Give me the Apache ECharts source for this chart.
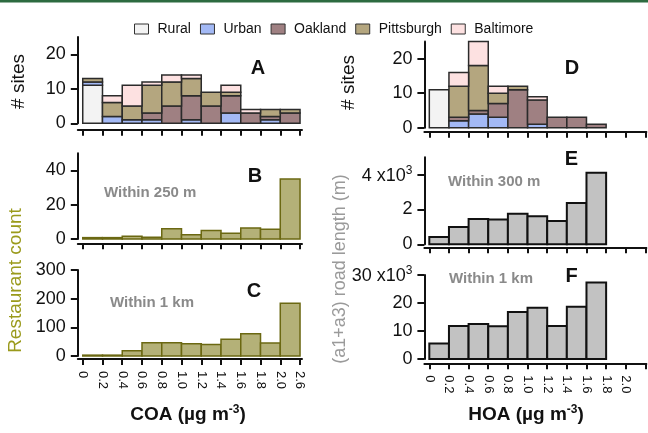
<!DOCTYPE html>
<html><head><meta charset="utf-8">
<script src="https://cdn.jsdelivr.net/npm/echarts@6/dist/echarts.min.js"></script>
<style>html,body{margin:0;padding:0;background:#fff}#c{width:648px;height:433px}</style>
</head><body><div id="c"></div>
<script>
const FONT = '"Liberation Sans", Arial, Helvetica, sans-serif';

// ---------- data ----------
const coaTickLabels = ['0','0.2','0.4','0.6','0.8','1.0','1.2','1.4','1.6','1.8','2.0','2.6'];
const hoaTickLabels = ['0','0.2','0.4','0.6','0.8','1.0','1.2','1.4','1.6','1.8','2.0',''];
const siteTypes = ['Rural','Urban','Oakland','Pittsburgh','Baltimore'];
const siteColors = ['#f3f3f3','#a3b9f5','#9f8082','#b4a67f','#fde1e1'];

// Panel A: # sites per COA bin (stack bottom -> top)
const coaRural      = [11,0,0,0,0,0,0,0,0,0,0];
const coaUrban      = [1,2,1,1,0,1,0,3,0,1,0];
const coaOakland    = [0,0,0,2,5,7,5,5,3,1,3];
const coaPittsburgh = [1,4,4,8,7,5,4,1,0,2,1];
const coaBaltimore  = [0,2,6,1,2,1,0,2,1,0,0];

// Panel D: # sites per HOA bin
const hoaRural      = [11,0,0,0,0,0,0,0,0];
const hoaUrban      = [0,2,4,3,0,1,0,0,0];
const hoaOakland    = [0,1,1,4,11,7,3,3,1];
const hoaPittsburgh = [0,9,13,3,1,0,0,0,0];
const hoaBaltimore  = [0,4,7,2,0,1,0,0,0];

// Panels B, C: restaurant count per COA bin
const restaurants250m = [0.8,0.8,1.6,1,6,2.5,5,3.3,6.4,5.7,35];
const restaurants1km  = [3,3,18,46,46,43,40,58,78,45,184];

// Panels E, F: (a1+a3) road length (m) per HOA bin
const road300m = [420,1000,1450,1420,1760,1610,1340,2370,4110];
const road1km  = [5500,11800,12500,11700,16800,18300,11800,18700,27300];

// ---------- helpers ----------
const tickIdx = [0,1,2,3,4,5,6,7,8,9,10,11];

function xAxisFor(gi, labels, offset, showLabels, max) {
  return {
    type: 'value', gridIndex: gi, min: -0.25, max: max, offset: offset,
    axisLine: { show: true, onZero: false, lineStyle: { color: '#111', width: 2 } },
    axisTick: { show: true, length: 6, customValues: tickIdx, lineStyle: { color: '#111', width: 2 } },
    axisLabel: {
      show: showLabels, customValues: tickIdx, rotate: -90, margin: 12,
      fontSize: 13, color: '#111', fontFamily: FONT,
      formatter: v => labels[Math.round(v)]
    },
    splitLine: { show: false }
  };
}

function yAxisFor(gi, max, ticks, fmt) {
  const label = { customValues: ticks, margin: 12, fontSize: 18, color: '#111', fontFamily: FONT };
  if (fmt) {
    label.formatter = fmt;
    label.rich = {
      n: { fontSize: 18, color: '#111', fontFamily: FONT, lineHeight: 20, verticalAlign: 'bottom' },
      s: { fontSize: 12, color: '#111', fontFamily: FONT, lineHeight: 12, verticalAlign: 'top' }
    };
  }
  return {
    type: 'value', gridIndex: gi, min: 0, max: max,
    axisLine: { show: true, onZero: false, lineStyle: { color: '#111', width: 2 } },
    axisTick: { show: true, length: 7, customValues: ticks, lineStyle: { color: '#111', width: 2 } },
    axisLabel: label,
    splitLine: { show: false }
  };
}

function barRender(fill, stroke, lw) {
  return function (params, api) {
    const i = api.value(0), b = api.value(1), t = api.value(2);
    if (!(t > b)) return null;
    const p0 = api.coord([i, b]);
    const p1 = api.coord([i + 1, t]);
    return {
      type: 'rect',
      shape: { x: p0[0], y: p1[1], width: p1[0] - p0[0], height: p0[1] - p1[1] },
      style: { fill: fill, stroke: stroke, lineWidth: lw }
    };
  };
}

function stackedSeries(lists, gi) {
  return lists.map((vals, k) => ({
    type: 'custom', name: siteTypes[k], xAxisIndex: gi, yAxisIndex: gi,
    itemStyle: { color: siteColors[k], borderColor: '#333', borderWidth: 1 },
    renderItem: barRender(siteColors[k], '#2b2b2b', 1.5),
    data: vals.map((v, i) => {
      let b = 0;
      for (let j = 0; j < k; j++) b += lists[j][i];
      return [i, b, b + v];
    })
  }));
}

function simpleSeries(vals, gi, fill, stroke, lw, name) {
  return {
    type: 'custom', name: name, xAxisIndex: gi, yAxisIndex: gi,
    renderItem: barRender(fill, stroke, lw),
    data: vals.map((v, i) => [i, 0, v])
  };
}

const OLIVE_FILL = '#b4b178', OLIVE_LINE = '#6b6812';
const GRAY_FILL = '#c2c2c2';

function txt(x, y, text, size, color, weight, rot, align) {
  return {
    type: 'text', x: x, y: y, rotation: rot || 0, silent: true,
    style: {
      text: text, fill: color, font: (weight || 'normal') + ' ' + size + 'px ' + FONT,
      align: align || 'center', verticalAlign: 'middle'
    }
  };
}

function richTitle(x, y, main) {
  return {
    type: 'text', x: x, y: y, silent: true,
    style: {
      text: '{b|' + main + ' (µg m}{s|-3}{b|)}',
      align: 'center', verticalAlign: 'middle',
      rich: {
        b: { fontSize: 19, fontWeight: 'bold', fontFamily: FONT, fill: '#111', lineHeight: 20, verticalAlign: 'bottom' },
        s: { fontSize: 12, fontWeight: 'bold', fontFamily: FONT, fill: '#111', lineHeight: 12, verticalAlign: 'top' }
      }
    }
  };
}

const option = {
  animation: false,
  legend: {
    top: 17, left: 129, itemWidth: 14, itemHeight: 10, itemGap: 9,
    textStyle: { fontSize: 14, color: '#111', fontFamily: FONT, padding: [0, 0, 0, 4] },
    data: siteTypes.map((n, k) => ({
      name: n, icon: 'rect',
      itemStyle: { color: siteColors[k], borderColor: '#333', borderWidth: 1 }
    }))
  },
  grid: [
    { left: 77.8, top: 37,    width: 224.2, height: 86.3 },  // A
    { left: 77.8, top: 153.2, width: 224.2, height: 85.8 },  // B
    { left: 77.8, top: 270,   width: 224.2, height: 86 },    // C
    { left: 424.4, top: 41.4, width: 222,   height: 86.3 },  // D
    { left: 424.4, top: 157.3, width: 222,  height: 87 },    // E
    { left: 424.4, top: 275,  width: 222,   height: 84 }     // F
  ],
  xAxis: [
    xAxisFor(0, coaTickLabels, 6.5, false, 11.1),
    xAxisFor(1, coaTickLabels, 4.3, false, 11.1),
    xAxisFor(2, coaTickLabels, 3, true, 11.1),
    xAxisFor(3, hoaTickLabels, 4, false, 11.05),
    xAxisFor(4, hoaTickLabels, 3, false, 11.05),
    xAxisFor(5, hoaTickLabels, 4.3, true, 11.05)
  ],
  yAxis: [
    yAxisFor(0, 25, [0, 10, 20]),
    yAxisFor(1, 50, [0, 20, 40]),
    yAxisFor(2, 300, [0, 100, 200, 300]),
    yAxisFor(3, 25, [0, 10, 20]),
    yAxisFor(4, 5000, [0, 2000, 4000], v => v === 4000 ? '{n|4 x10}{s|3}' : String(v / 1000)),
    yAxisFor(5, 30000, [0, 10000, 20000, 30000], v => v === 30000 ? '{n|30 x10}{s|3}' : String(v / 1000))
  ],
  series: [
    ...stackedSeries([coaRural, coaUrban, coaOakland, coaPittsburgh, coaBaltimore], 0),
    simpleSeries(restaurants250m, 1, OLIVE_FILL, OLIVE_LINE, 1.5, 'Within 250 m'),
    simpleSeries(restaurants1km, 2, OLIVE_FILL, OLIVE_LINE, 1.5, 'Within 1 km'),
    ...stackedSeries([hoaRural, hoaUrban, hoaOakland, hoaPittsburgh, hoaBaltimore], 3),
    simpleSeries(road300m, 4, GRAY_FILL, '#111', 2, 'Within 300 m'),
    simpleSeries(road1km, 5, GRAY_FILL, '#111', 2, 'Within 1 km ')
  ],
  graphic: [
    { type: 'rect', shape: { x: 0, y: 0, width: 648, height: 2.5 }, style: { fill: '#2d6b40' }, silent: true },
    txt(258, 68, 'A', 20, '#111', 'bold'),
    txt(255, 176, 'B', 20, '#111', 'bold'),
    txt(254, 291.5, 'C', 20, '#111', 'bold'),
    txt(572, 68, 'D', 20, '#111', 'bold'),
    txt(571.5, 159, 'E', 20, '#111', 'bold'),
    txt(571.5, 276, 'F', 20, '#111', 'bold'),
    txt(104, 192.5, 'Within 250 m', 15, '#8a8a8a', 'bold', 0, 'left'),
    txt(110, 302.5, 'Within 1 km', 15, '#8a8a8a', 'bold', 0, 'left'),
    txt(448, 182, 'Within 300 m', 15, '#8a8a8a', 'bold', 0, 'left'),
    txt(449, 278.5, 'Within 1 km', 15, '#8a8a8a', 'bold', 0, 'left'),
    txt(19, 81.5, '# sites', 19, '#111', 'normal', Math.PI / 2),
    txt(349, 82.5, '# sites', 19, '#111', 'normal', Math.PI / 2),
    txt(16, 280.5, 'Restaurant count', 19, '#9a9a1c', 'normal', Math.PI / 2),
    txt(340, 269, '(a1+a3) road length (m)', 18, '#9a9a9a', 'normal', Math.PI / 2),
    richTitle(188, 414, 'COA'),
    richTitle(526, 414, 'HOA')
  ]
};

const chart = echarts.init(document.getElementById('c'), null, { renderer: 'canvas' });
chart.setOption(option);
</script>
</body></html>
